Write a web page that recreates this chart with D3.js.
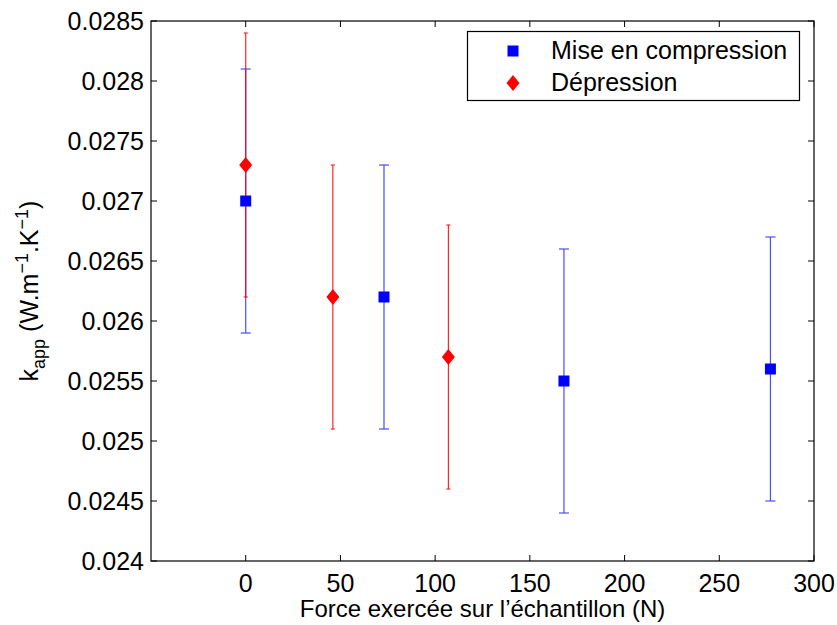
<!DOCTYPE html>
<html>
<head>
<meta charset="utf-8">
<script src="https://cdn.jsdelivr.net/npm/d3@7"></script>
<style>
  body { margin: 0; background: #fff; }
  text { font-family: "Liberation Sans", Arial, sans-serif; }
</style>
</head>
<body>
<div id="chart"></div>
<script>
// series: Mise en compression (blue squares)
var compX = [0, 73, 168, 277];
var compY = [0.0270, 0.0262, 0.0255, 0.0256];
var compLo = [0.0259, 0.0251, 0.0244, 0.0245];
var compHi = [0.0281, 0.0273, 0.0266, 0.0267];

// series: Dépression (red diamonds)
var depX = [0, 46, 107];
var depY = [0.0273, 0.0262, 0.0257];
var depLo = [0.0262, 0.0251, 0.0246];
var depHi = [0.0284, 0.0273, 0.0268];

var xTicks = [0, 50, 100, 150, 200, 250, 300];
var yTicks = [0.024, 0.0245, 0.025, 0.0255, 0.026, 0.0265, 0.027, 0.0275, 0.028, 0.0285];
var seriesNames = ['Mise en compression', 'D\u00e9pression'];

(function() {
    var W = 837, H = 625;
    var pl = 151, pr = 814, pt = 21, pb = 561;
    var fs = 25;

    var svg = d3.select('#chart').append('svg')
        .attr('width', W)
        .attr('height', H);

    var x = d3.scaleLinear().domain([-50, 300]).range([pl, pr]);
    var y = d3.scaleLinear().domain([0.024, 0.0285]).range([pb, pt]);

    // axes box
    svg.append('rect')
        .attr('x', pl).attr('y', pt)
        .attr('width', pr - pl).attr('height', pb - pt)
        .attr('fill', 'none').attr('stroke', '#000').attr('stroke-width', 1.2);

    // x ticks (bottom and top)
    var xAxis = svg.append('g');
    xTicks.forEach(function(t) {
        xAxis.append('line').attr('x1', x(t)).attr('x2', x(t))
            .attr('y1', pb).attr('y2', pb - 6).attr('stroke', '#000');
        xAxis.append('line').attr('x1', x(t)).attr('x2', x(t))
            .attr('y1', pt).attr('y2', pt + 6).attr('stroke', '#000');
        xAxis.append('text')
            .attr('x', x(t)).attr('y', 592)
            .attr('text-anchor', 'middle')
            .style('font-size', fs + 'px')
            .text(t);
    });

    // y ticks (left and right)
    var yAxis = svg.append('g');
    yTicks.forEach(function(t) {
        yAxis.append('line').attr('x1', pl).attr('x2', pl + 6)
            .attr('y1', y(t)).attr('y2', y(t)).attr('stroke', '#000');
        yAxis.append('line').attr('x1', pr).attr('x2', pr - 6)
            .attr('y1', y(t)).attr('y2', y(t)).attr('stroke', '#000');
        yAxis.append('text')
            .attr('x', 144).attr('y', y(t) + 9)
            .attr('text-anchor', 'end')
            .style('font-size', fs + 'px')
            .text(String(+t.toFixed(4)));
    });

    // axis labels
    svg.append('text')
        .attr('x', (pl + pr) / 2).attr('y', 617)
        .attr('text-anchor', 'middle')
        .style('font-size', '24px')
        .text('Force exerc\u00e9e sur l\u2019\u00e9chantillon (N)');

    var yl = svg.append('text')
        .attr('transform', 'translate(38,' + ((pt + pb) / 2) + ') rotate(-90)')
        .attr('text-anchor', 'middle')
        .style('font-size', fs + 'px');
    yl.append('tspan').text('k');
    yl.append('tspan').attr('dy', 7).style('font-size', '18px').text('app');
    yl.append('tspan').attr('dy', -7).text(' (W.m');
    yl.append('tspan').attr('dy', -10).style('font-size', '18px').text('\u22121');
    yl.append('tspan').attr('dy', 10).text('.K');
    yl.append('tspan').attr('dy', -10).style('font-size', '18px').text('\u22121');
    yl.append('tspan').attr('dy', 10).text(')');

    function errorBars(xs, lo, hi, color, capHalf, opacity) {
        var g = svg.append('g').attr('stroke', color).attr('stroke-width', 1.2).attr('opacity', opacity);
        xs.forEach(function(v, i) {
            g.append('line').attr('x1', x(v)).attr('x2', x(v)).attr('y1', y(lo[i])).attr('y2', y(hi[i]));
            g.append('line').attr('x1', x(v) - capHalf).attr('x2', x(v) + capHalf).attr('y1', y(lo[i])).attr('y2', y(lo[i]));
            g.append('line').attr('x1', x(v) - capHalf).attr('x2', x(v) + capHalf).attr('y1', y(hi[i])).attr('y2', y(hi[i]));
        });
    }

    errorBars(compX, compLo, compHi, '#0000ff', 5, 0.7);
    errorBars(depX, depLo, depHi, '#ff0000', 2, 0.85);

    var square = d3.symbol().type(d3.symbolSquare).size(121);
    var diamond = 'M0,-8L6.5,0L0,8L-6.5,0Z';

    svg.append('g').selectAll('path')
        .data(compX)
        .join('path')
        .attr('d', square)
        .attr('transform', function(d, i) { return 'translate(' + x(d) + ',' + y(compY[i]) + ')'; })
        .attr('fill', '#0000ff');

    svg.append('g').selectAll('path')
        .data(depX)
        .join('path')
        .attr('d', diamond)
        .attr('transform', function(d, i) { return 'translate(' + x(d) + ',' + y(depY[i]) + ')'; })
        .attr('fill', '#ff0000');

    // legend
    var lg = svg.append('g');
    lg.append('rect')
        .attr('x', 467.5).attr('y', 31.5).attr('width', 332).attr('height', 69)
        .attr('fill', '#fff').attr('stroke', '#000').attr('stroke-width', 1.2);
    lg.append('path').attr('d', square).attr('transform', 'translate(513,51)').attr('fill', '#0000ff');
    lg.append('path').attr('d', diamond).attr('transform', 'translate(513,83)').attr('fill', '#ff0000');
    seriesNames.forEach(function(n, i) {
        lg.append('text')
            .attr('x', 551).attr('y', 59 + i * 32)
            .style('font-size', fs + 'px')
            .text(n);
    });
})();
</script>
</body>
</html>
